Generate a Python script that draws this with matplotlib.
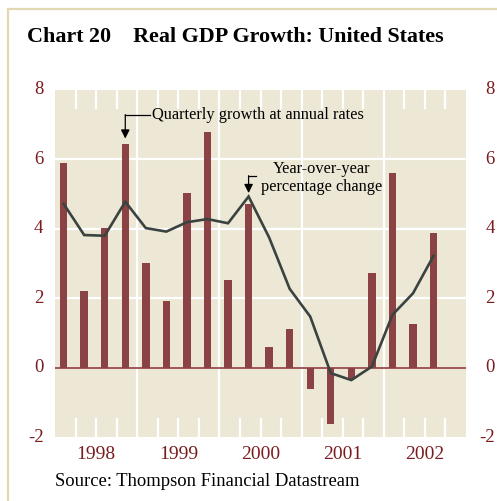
import matplotlib
matplotlib.use("Agg")
import matplotlib.pyplot as plt
import matplotlib.transforms as mtransforms
from matplotlib.lines import Line2D

# Quarterly real GDP, 1998Q1 - 2002Q3
years = [1998, 1999, 2000, 2001, 2002]
quarters = [(y, q) for y in years for q in range(4)][:19]
qoq_saar = [5.89, 2.22, 4.03, 6.44, 3.01, 1.93, 5.03, 6.78, 2.53, 4.71,
            0.58, 1.11, -0.61, -1.62, -0.32, 2.72, 5.60, 1.26, 3.87]
yoy = [4.72, 3.82, 3.80, 4.78, 4.02, 3.92, 4.19, 4.28, 4.16, 4.93,
       3.75, 2.27, 1.47, -0.16, -0.36, 0.03, 1.52, 2.14, 3.22]
yticks = [-2, 0, 2, 4, 6, 8]

BG = "#ede8d6"
BAR = "#8b4245"
LINE = "#3a433f"
TICK = "#7a1c1f"
FRAME = "#e2d9b3"
SERIF = ["Liberation Serif", "DejaVu Serif"]

fig = plt.figure(figsize=(4.97, 5.01), dpi=100)
ax = fig.add_axes([55 / 497, 1 - 437 / 501, (466 - 55) / 497, (437 - 90) / 501])
ax.set_facecolor(BG)

x = [y + q * 0.25 + 0.105 for y, q in quarters]
ax.bar(x, qoq_saar, width=0.09, color=BAR, zorder=3)
ax.plot(x, yoy, color=LINE, lw=1.9, zorder=4, solid_joinstyle="miter")

ax.set_xlim(1998, 2003)
ax.set_ylim(-2, 8)
for s in ax.spines.values():
    s.set_visible(False)
ax.set_xticks([])
ax.set_yticks([])

# white grid: horizontal levels and year dividers
for v in [2, 4, 6]:
    ax.axhline(v, color="white", lw=1.6, zorder=1)
for yr in years[1:]:
    ax.axvline(yr, color="white", lw=1.6, zorder=1)
ax.axhline(0, color="#9b4c4e", lw=1.3, zorder=2)

# short quarter ticks at top and bottom
trans = mtransforms.blended_transform_factory(ax.transData, ax.transAxes)
for yr in years:
    for q in (1, 2, 3):
        xq = yr + q * 0.25
        ax.plot([xq, xq], [0, 0.052], transform=trans, color="white", lw=1.6, zorder=1)
        ax.plot([xq, xq], [0.948, 1], transform=trans, color="white", lw=1.6, zorder=1)

# tick labels on both sides
ytrans = mtransforms.blended_transform_factory(ax.transAxes, ax.transData)
rtrans = mtransforms.blended_transform_factory(fig.transFigure, ax.transData)
for v in yticks:
    lab = f"{v}"
    ax.text(-0.028, v, lab, transform=ytrans, ha="right", va="center",
            fontsize=13.5, color=TICK, family=SERIF)
    ax.text(495 / 497, v, lab, transform=rtrans, ha="right", va="center",
            fontsize=13.5, color=TICK, family=SERIF)
for yr in years:
    ax.text(yr + 0.5, -0.025, str(yr), transform=trans, ha="center", va="top",
            fontsize=14, color=TICK, family=SERIF)

# callouts
ax.text(1998 + (152 - 55) / 82.2, 7.28, "Quarterly growth at annual rates", ha="left", va="center",
        fontsize=11.8, color="black", family=SERIF, zorder=5)
ax.plot([x[3], 1998 + (150 - 55) / 82.2], [7.28, 7.28], color="black", lw=0.9, zorder=5)
ax.annotate("", xy=(x[3], 6.6), xytext=(x[3], 7.29),
            arrowprops=dict(arrowstyle="-|>", color="black", lw=0.9, mutation_scale=13,
                            shrinkA=0, shrinkB=0), zorder=5)

ax.text(1998 + (322 - 55) / 82.2, 5.46, "Year-over-year\npercentage change", ha="center", va="center",
        fontsize=11.8, color="black", family=SERIF, linespacing=1.2, zorder=5)
ax.plot([x[9], x[9] + 0.085], [5.52, 5.52], color="black", lw=0.9, zorder=5)
ax.annotate("", xy=(x[9], 5.03), xytext=(x[9], 5.53),
            arrowprops=dict(arrowstyle="-|>", color="black", lw=0.9, mutation_scale=13,
                            shrinkA=0, shrinkB=0), zorder=5)

# title, source and frame
fig.text(27 / 497, 1 - 37 / 501, "Chart 20    Real GDP Growth: United States", ha="left", va="center",
         fontsize=15.8, fontweight="bold", family=SERIF)
fig.text(55 / 497, 1 - 482 / 501, "Source: Thompson Financial Datastream", ha="left", va="center",
         fontsize=13.4, family=SERIF)
fig.add_artist(Line2D([8 / 497, 8 / 497], [0, 1 - 9 / 501], color=FRAME, lw=1.6, transform=fig.transFigure))
fig.add_artist(Line2D([8 / 497, 1], [1 - 9 / 501, 1 - 9 / 501], color=FRAME, lw=1.6, transform=fig.transFigure))

fig.savefig("out.png", dpi=100)
